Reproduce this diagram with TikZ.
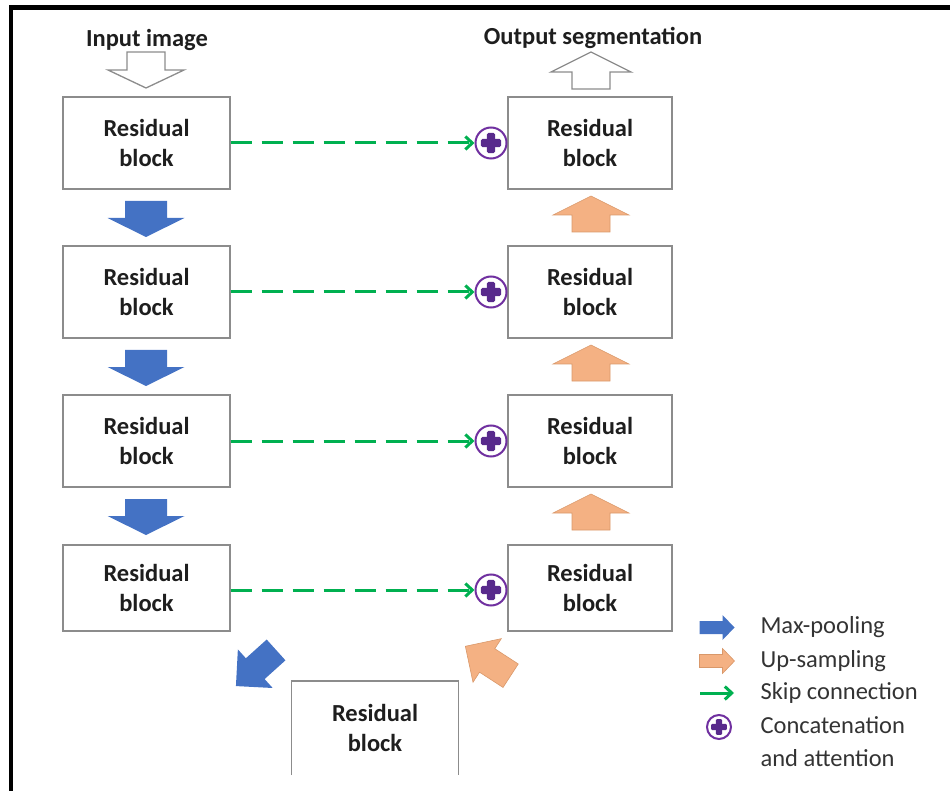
\documentclass[tikz,border=0pt]{standalone}
\usepackage{fontspec}
\setmainfont{Carlito}
\usetikzlibrary{arrows.meta,calc}

\definecolor{mpblue}{HTML}{4472C4}
\definecolor{uporange}{HTML}{F4B183}
\definecolor{uporangedk}{HTML}{D9986A}
\definecolor{skipgreen}{HTML}{00B050}
\definecolor{catpurple}{HTML}{7030A0}
\definecolor{catpurpledk}{HTML}{582A8C}
\definecolor{boxgray}{HTML}{8C8C8C}
\definecolor{txtdark}{HTML}{1E1E1E}
\definecolor{txtlegend}{HTML}{333333}

% Block arrow pointing up (screen) centred on the origin:
% #1 options, #2 length, #3 head length, #4 shaft half width, #5 head half width
\newcommand\blockarrow[5]{%
  \path[#1] (-#4,{#2/2}) -- (-#4,{-#2/2+#3}) -- (-#5,{-#2/2+#3}) -- (0,{-#2/2})
    -- (#5,{-#2/2+#3}) -- (#4,{-#2/2+#3}) -- (#4,{#2/2}) -- cycle;}

\begin{document}
\begin{tikzpicture}[x=1pt,y=-1pt,
  resblock/.style={draw=boxgray, line width=1.3pt, fill=white,
    minimum width=167pt, minimum height=92pt, align=center, text=txtdark,
    font=\fontsize{24.5}{30}\selectfont\bfseries},
  headline/.style={text=txtdark, font=\fontsize{24.5}{30}\selectfont\bfseries},
  legendtext/.style={anchor=west, text=txtlegend, align=left,
    font=\fontsize{24.5}{33}\selectfont},
  skip/.style={draw=skipgreen, line width=3pt, dash pattern=on 21pt off 10pt,
    -{Straight Barb[length=7pt,width=13pt]}},
  cat/.style={circle, minimum size=#1, inner sep=0pt, draw=catpurple,
    line width=2pt, fill=white,
    path picture={
      \fill[catpurpledk, rounded corners=0.05*#1]
        ([shift={(-0.33*#1,-0.13*#1)}]path picture bounding box.center) rectangle
        ([shift={(0.33*#1,0.13*#1)}]path picture bounding box.center);
      \fill[catpurpledk, rounded corners=0.05*#1]
        ([shift={(-0.13*#1,-0.33*#1)}]path picture bounding box.center) rectangle
        ([shift={(0.13*#1,0.33*#1)}]path picture bounding box.center);}},
  hollow/.style={draw=boxgray, line width=1.3pt, fill=white},
  down/.style={fill=mpblue},
  up/.style={fill=uporange, draw=uporangedk, line width=0.6pt}
]
\useasboundingbox (0,0) rectangle (950,791);

% frame (top and left edges)
\draw[line width=4.5pt] (11,791) -- (11,7.5) -- (950,7.5);

% encoder column
\node[resblock] (L1) at (146.5,143) {Residual\\block};
\node[resblock] (L2) at (146.5,292) {Residual\\block};
\node[resblock] (L3) at (146.5,441) {Residual\\block};
\node[resblock, minimum height=86pt] (L4) at (146.5,588) {Residual\\block};

% decoder column
\node[resblock, minimum width=164pt] (R1) at (590,143) {Residual\\block};
\node[resblock, minimum width=164pt] (R2) at (590,292) {Residual\\block};
\node[resblock, minimum width=164pt] (R3) at (590,441) {Residual\\block};
\node[resblock, minimum width=164pt, minimum height=86pt] (R4) at (590,588) {Residual\\block};

% bottleneck block, open at the bottom
\node[resblock, draw=none, fill=none, minimum width=166pt, minimum height=93pt] (B) at (375,728) {Residual\\block};
\draw[draw=boxgray, line width=1.3pt] (B.south west) -- (B.north west) -- (B.north east) -- (B.south east);

% concatenation / attention joints
\node[cat=31pt] (P1) at (491,143) {};
\node[cat=31pt] (P2) at (491,292) {};
\node[cat=31pt] (P3) at (491,441) {};
\node[cat=31pt] (P4) at (491,590) {};

% skip connections
\draw[skip] (L1.east) -- (P1.west);
\draw[skip] (L2.east) -- (P2.west);
\draw[skip] (L3.east) -- (P3.west);
\draw[skip] (L4.east |- P4) -- (P4.west);

% input and output
\node[headline] (IN) at (147,40) {Input image};
\node[headline] (OUT) at (593,38) {Output segmentation};
\blockarrow{hollow, shift={(146,70)}, rotate=180}{36}{18}{19}{38}
\blockarrow{hollow, shift={(591,70.5)}}{37}{20}{19}{40}

% max-pooling arrows
\blockarrow{down, shift={(146,219)}, rotate=180}{36}{19}{21}{38.5}
\blockarrow{down, shift={(146,368)}, rotate=180}{36}{19}{21}{38.5}
\blockarrow{down, shift={(146,517)}, rotate=180}{36}{19}{21}{38.5}
\blockarrow{down, shift={(256,668)}, rotate=132}{54}{26}{14}{26}

% up-sampling arrows
\blockarrow{up, shift={(591,214)}}{36}{19}{19}{38}
\blockarrow{up, shift={(591,363)}}{36}{19}{19}{38}
\blockarrow{up, shift={(591,512)}}{36}{19}{19}{38}
\blockarrow{up, shift={(488,661)}, rotate=57}{54}{26}{14}{26}

% legend
\blockarrow{down, shift={(717,627.5)}, rotate=-90}{35}{12}{6.5}{12.5}
\blockarrow{up, shift={(717,661)}, rotate=-90}{35}{12}{6.5}{12.5}
\coordinate (G1) at (700,693);
\coordinate (G2) at (734,693);
\draw[skip, solid] (G1) -- (G2);
\node[cat=24pt] (PL) at (719,727) {};

\node[legendtext] (T1) at (757,627) {Max-pooling};
\node[legendtext] (T2) at (757,661) {Up-sampling};
\node[legendtext] (T3) at (757,693) {Skip connection};
\node[legendtext] (T4) at (757,741.5) {Concatenation\\and attention};
\end{tikzpicture}
\end{document}
